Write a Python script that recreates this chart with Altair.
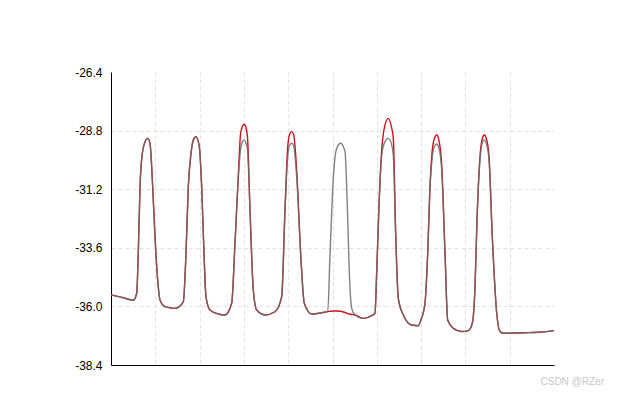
import altair as alt
import pandas as pd

x_vals = [0.000, 0.248, 0.503, 0.580, 0.616, 0.655, 0.707, 0.767, 0.828, 0.880,
          0.941, 0.993, 1.054, 1.106, 1.219, 1.445, 1.632, 1.693, 1.745, 1.806,
          1.860, 1.919, 1.993, 2.047, 2.099, 2.144, 2.235, 2.422, 2.573, 2.725,
          2.799, 2.874, 2.923, 2.962, 3.009, 3.047, 3.081, 3.138, 3.212, 3.289,
          3.476, 3.702, 3.853, 3.928, 3.989, 4.035, 4.079, 4.125, 4.192, 4.289,
          4.363, 4.531, 4.756, 4.869, 4.892, 4.944, 5.018, 5.095, 5.185, 5.282,
          5.334, 5.379, 5.433, 5.508, 5.695, 5.885, 5.959, 5.998, 6.050, 6.111,
          6.180, 6.260, 6.330, 6.372, 6.427, 6.485, 6.598, 6.788, 6.937, 6.995,
          7.088, 7.149, 7.201, 7.253, 7.305, 7.352, 7.400, 7.465, 7.540, 7.600,
          7.727, 7.916, 8.065, 8.156, 8.217, 8.262, 8.330, 8.380, 8.427, 8.475,
          8.533, 8.607, 8.707, 8.781, 8.856, 9.345, 9.722, 10.000]

gray_vals = [-35.53, -35.63, -35.74, -35.46, -33.82, -31.10, -29.73, -29.27, -29.12, -29.32,
             -31.10, -33.14, -34.92, -35.74, -36.01, -36.08, -35.81, -33.82, -31.10, -29.73,
             -29.18, -29.05, -29.46, -31.10, -33.82, -35.60, -36.15, -36.31, -36.35, -35.86,
             -33.40, -30.69, -29.59, -29.27, -29.18, -29.31, -29.59, -32.05, -35.33, -36.15,
             -36.35, -36.22, -35.60, -32.05, -29.87, -29.39, -29.32, -29.43, -30.69, -34.10,
             -35.87, -36.31, -36.26, -36.22, -36.22, -33.89, -30.75, -29.52, -29.32, -29.66,
             -31.85, -34.58, -36.08, -36.35, -36.49, -36.38, -36.28, -34.58, -31.85, -29.80,
             -29.27, -29.12, -29.35, -29.80, -33.21, -35.67, -36.35, -36.76, -36.79, -36.56,
             -35.87, -33.82, -31.10, -29.87, -29.43, -29.35, -29.51, -30.41, -33.82, -36.56,
             -36.90, -37.03, -36.99, -36.69, -35.19, -32.46, -30.00, -29.31, -29.18, -29.35,
             -30.00, -33.14, -36.28, -37.03, -37.10, -37.08, -37.05, -36.99]

red_vals = [-35.53, -35.63, -35.74, -35.46, -33.82, -31.10, -29.73, -29.27, -29.12, -29.32,
            -31.10, -33.14, -34.92, -35.74, -36.01, -36.08, -35.81, -33.82, -31.10, -29.73,
            -29.18, -29.05, -29.46, -31.10, -33.82, -35.60, -36.15, -36.31, -36.35, -35.86,
            -33.40, -30.69, -28.95, -28.65, -28.54, -28.69, -29.06, -32.05, -35.33, -36.15,
            -36.35, -36.22, -35.60, -32.05, -29.47, -28.94, -28.84, -28.98, -30.45, -34.10,
            -35.87, -36.31, -36.26, -36.22, -36.21, -36.20, -36.19, -36.19, -36.20, -36.25,
            -36.29, -36.31, -36.33, -36.35, -36.49, -36.38, -36.28, -34.58, -31.85, -29.59,
            -28.61, -28.30, -28.65, -29.10, -33.00, -35.67, -36.35, -36.76, -36.79, -36.56,
            -35.87, -33.82, -31.10, -29.59, -29.10, -28.98, -29.18, -30.20, -33.82, -36.56,
            -36.90, -37.03, -36.99, -36.69, -35.19, -32.46, -29.85, -29.14, -28.98, -29.14,
            -29.85, -33.14, -36.28, -37.03, -37.10, -37.08, -37.05, -36.99]

y_ticks = [-38.4, -37.2, -36.0, -34.8, -33.6, -32.4, -31.2, -30.0, -28.8, -27.6, -26.4]
x_grid = [1, 2, 3, 4, 5, 6, 7, 8, 9]

df = pd.concat([
    pd.DataFrame({"x": x_vals, "y": red_vals, "s": "red"}),
    pd.DataFrame({"x": x_vals, "y": gray_vals, "s": "gray"}),
])

x_enc = alt.X("x:Q", scale=alt.Scale(domain=[0, 10], nice=False, zero=False),
              axis=alt.Axis(values=x_grid, labels=False, ticks=False, title=None,
                            grid=True, gridDash=[4, 3], gridColor="#e2e2e2",
                            domainColor="#000000", domainWidth=1))
y_enc = alt.Y("y:Q", scale=alt.Scale(domain=[-38.4, -26.4], nice=False, zero=False),
              axis=alt.Axis(values=y_ticks, ticks=False, title=None,
                            labelExpr="abs(round(datum.value*10)) % 24 == 0 ? replace(format(datum.value, '.1f'), '\u2212', '-') : ''",
                            labelOverlap=False, labelPadding=9, labelFontSize=12,
                            labelColor="#000000", labelFont="Liberation Sans",
                            grid=True, gridDash=[4, 3], gridColor="#e2e2e2",
                            gridOpacity={"condition": {"test": "datum.value > -26.5 || datum.value < -38.3", "value": 0}, "value": 1},
                            domainColor="#000000", domainWidth=1))

red_line = alt.Chart(df).transform_filter(alt.datum.s == "red").mark_line(
    interpolate="monotone", strokeWidth=1.4, color="#d0101c"
).encode(x=x_enc, y=y_enc)

gray_line = alt.Chart(df).transform_filter(alt.datum.s == "gray").mark_line(
    interpolate="monotone", strokeWidth=1.4, color="#6a6a6a", opacity=0.85
).encode(x="x:Q", y="y:Q")

mark_txt = alt.Chart(pd.DataFrame({"t": ["CSDN @RZer"]})).mark_text(
    align="right", baseline="alphabetic", fontSize=10, color="#c8c8c8", font="Liberation Sans"
).encode(x=alt.value(493), y=alt.value(313), text="t:N")

chart = alt.layer(red_line, gray_line, mark_txt).properties(
    width=443, height=293, autosize="none",
    padding={"left": 103, "top": 64, "right": 56, "bottom": 29}
).configure_view(stroke=None)

chart.save("out.html", embed_options={"renderer": "svg", "actions": False})
